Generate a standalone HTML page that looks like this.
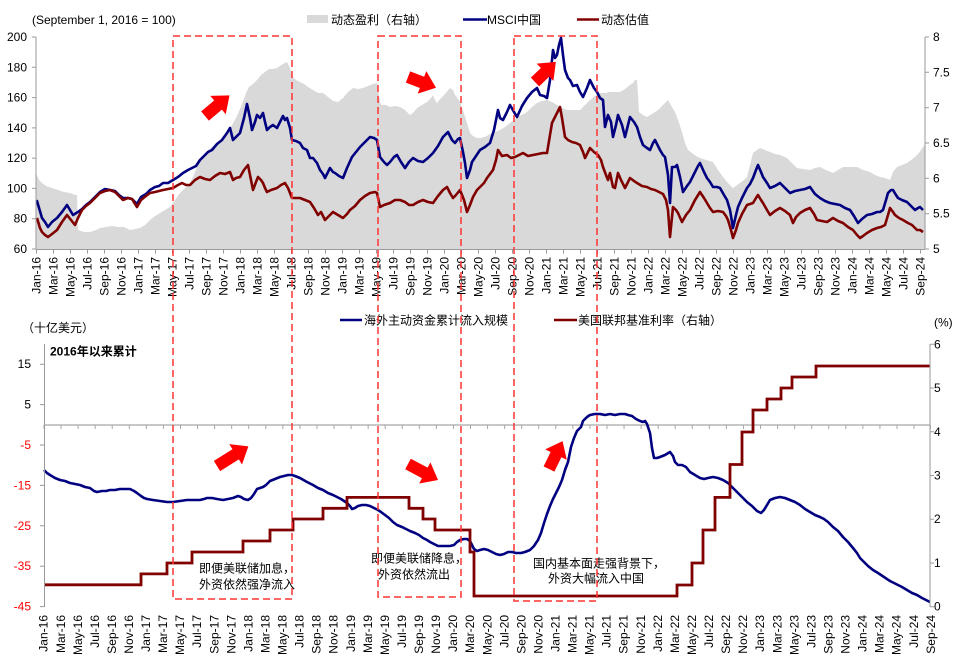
<!DOCTYPE html>
<html><head><meta charset="utf-8"><style>
html,body{margin:0;padding:0;background:#fff;}
svg{display:block;font-family:"Liberation Sans","Noto Sans CJK SC",sans-serif;}
</style></head><body>
<svg width="969" height="664" viewBox="0 0 969 664" xmlns="http://www.w3.org/2000/svg">
<rect width="969" height="664" fill="#fff"/>

<!-- ===== TOP CHART ===== -->
<polygon fill="#d9d9d9" points="36,173 39,180 42,183 46,186 52,188 58,190 64,192 70,193 75,195 77,195 78,230 84,232 90,232 96,230 100,228 106,227 112,226 118,227 124,227 130,230 135,229 140,228 145,225 150,220 155,216 160,213 165,210 170,207 175,200 180,193 185,188 190,183 195,172 200,160 204,155 207,151 212,147 217,143 222,139 227,133 232,125 237,116 242,104 246,93 249,87 253,84 257,80 261,75 265,72 269,69 273,69 277,68 280,66 283,64 287,62 290,68 292,76 296,80 300,82 304,84 308,87 313,90 318,93 323,93 328,97 333,101 338,102 343,98 348,92 353,88 358,89 363,88 368,86 373,84 377,83 379,95 381,105 386,105 390,107 395,106 400,107 405,110 410,115 414,112 417,108 422,105 427,102 431,98 433,95 435,100 437,103 441,98 445,94 450,88 453,90 455,95 459,100 462,107 465,117 467,123 470,133 473,136 477,138 480,138 485,137 490,134 495,132 500,130 505,127 510,123 514,120 517,117 522,115 527,112 532,107 537,103 542,101 547,100 552,102 557,105 562,108 567,110 572,110 577,110 580,110 585,105 590,100 595,96 600,93 605,93 610,92 615,92 620,92 625,89 630,85 633,83 635,80 637,80 639,112 643,115 647,117 652,114 658,110 663,105 668,100 672,107 675,112 678,120 682,132 685,143 688,150 692,153 696,156 700,158 706,160 713,162 718,170 723,177 728,183 733,188 737,185 740,183 744,180 747,177 750,165 753,153 757,150 760,148 765,150 770,152 775,154 780,155 787,158 792,163 797,168 803,169 810,170 815,168 820,167 826,170 833,173 838,170 843,167 850,167 857,167 863,170 870,172 875,175 880,177 885,178 890,180 893,172 897,167 902,165 907,163 911,160 915,157 919,153 923,147 925,145 925,249 36,249"/>

<!-- MSCI China (navy) -->
<polyline fill="none" stroke="#000080" stroke-width="2.6" stroke-linejoin="round" points="36.7,200 42,218 45,222 48,227 52,222 57,218 62,212 67,205 70,210 73,215 78,212 82,209 86,205 90,202 95,197 100,192 105,189 110,190 115,191 119,195 123,198 128,198 132,199 137,204 141,197 146,194 150,190 155,187 159,186 163,183 168,183 173,180 178,177 183,173 188,170 192,168 196,166 200,160 204,156 208,152 212,150 217,144 222,140 227,133 230,128 233,140 237,136 240,133 244,118 247,104 250,118 252,130 255,122 257,115 260,118 263,113 265,122 267,130 270,127 273,125 277,128 280,122 283,116 285,120 287,118 290,128 292,140 296,141 300,143 303,148 307,150 310,158 313,158 317,163 320,170 323,174 325,178 328,172 330,168 333,172 335,173 339,176 343,178 347,168 352,157 356,152 360,147 365,142 370,137 374,138 377,140 380,157 384,162 387,165 390,162 394,157 397,155 401,162 405,168 409,162 413,158 418,161 423,162 428,158 433,153 438,146 443,137 448,132 452,140 455,143 458,139 460,138 463,152 465,163 467,178 470,170 472,162 476,156 480,150 485,147 490,143 494,130 498,110 500,118 503,120 507,112 510,105 514,112 517,117 522,106 527,98 532,92 537,88 540,95 544,96 547,98 550,80 553,50 555,58 557,55 559,45 561,38 563,55 565,70 568,78 570,80 573,86 577,85 580,92 583,97 587,88 590,80 594,88 597,92 600,98 603,100 605,127 608,115 611,122 613,137 616,125 618,115 622,125 625,137 628,125 630,117 634,122 637,127 640,137 643,145 647,148 650,150 653,143 655,140 658,146 660,150 663,155 665,157 668,175 670,203 672,167 675,167 677,165 680,177 683,192 687,186 690,182 693,176 695,172 698,166 700,163 704,172 707,178 710,182 713,187 717,187 720,188 724,195 727,200 730,210 733,228 736,215 738,207 742,198 747,188 750,184 753,178 756,170 758,165 761,172 763,177 767,183 770,188 775,186 780,183 785,188 790,193 795,191 800,190 805,189 810,187 815,194 820,198 825,201 830,203 835,204 840,205 845,208 850,210 854,216 858,223 862,219 867,215 872,214 877,212 880,212 883,210 886,200 888,193 891,190 893,190 896,195 898,198 902,200 907,202 911,206 915,210 918,208 920,207 923,210"/>

<!-- valuation (dark red) on top -->
<polyline fill="none" stroke="#800000" stroke-width="2.6" stroke-linejoin="round" points="37,218 40,228 42,232 45,235 48,237 52,234 57,230 62,222 67,215 71,220 75,225 78,218 82,210 86,206 90,203 95,198 100,193 105,191 110,190 115,192 119,196 123,200 128,198 132,199 137,207 141,200 146,196 150,193 155,192 159,191 163,190 168,189 173,188 178,185 182,183 186,185 190,185 195,180 200,177 205,179 210,180 215,176 220,173 225,174 230,172 233,180 236,178 240,177 244,170 248,165 251,180 253,190 256,182 258,177 261,180 263,183 265,188 267,192 271,190 277,188 281,185 285,183 288,188 292,198 296,198 300,198 305,200 310,202 314,208 318,215 321,212 325,220 329,216 333,212 338,215 343,218 347,214 350,210 355,206 360,200 365,196 370,193 375,192 377,193 380,207 384,205 390,203 395,200 400,200 405,202 409,205 413,205 418,202 423,200 428,202 433,203 438,196 443,190 447,187 450,193 453,198 456,195 460,190 464,200 467,212 470,205 473,197 477,190 480,187 484,183 487,178 490,174 493,170 496,160 498,150 502,156 507,155 511,158 515,157 519,155 523,153 528,156 533,155 538,154 543,153 547,153 550,135 552,123 556,115 560,107 562,118 565,137 568,140 572,142 576,143 580,145 583,152 585,158 588,152 590,148 594,152 598,155 601,160 603,167 606,175 608,180 610,173 613,187 615,188 618,173 621,180 625,188 628,182 630,178 634,181 637,183 642,186 647,187 651,189 655,190 659,192 663,194 666,200 668,210 670,237 673,207 676,210 678,213 682,222 686,215 690,210 695,200 700,192 704,198 707,203 710,208 713,212 718,211 723,212 726,216 728,220 731,230 733,238 736,230 738,223 742,214 747,205 750,204 753,203 756,198 758,195 761,200 763,203 767,210 770,215 775,211 780,208 785,211 790,215 793,223 796,217 800,213 805,210 810,208 814,214 817,220 822,221 827,222 833,218 838,221 843,223 848,227 853,230 857,235 860,238 863,236 867,233 872,230 877,228 881,227 885,225 888,215 890,208 893,212 895,215 899,218 903,220 908,223 912,225 917,230 920,230 923,232"/>

<!-- top axes -->
<g stroke="#9a9a9a" stroke-width="1" fill="none">
<line x1="36" y1="37" x2="36" y2="249.5"/>
<line x1="925" y1="37" x2="925" y2="249.5"/>
<line x1="36" y1="249.5" x2="925" y2="249.5"/>
<path d="M32,37H36M32,67.3H36M32,97.6H36M32,127.9H36M32,158.1H36M32,188.4H36M32,218.7H36M32,249H36"/>
<path d="M925,37H929M925,72.3H929M925,107.7H929M925,143H929M925,178.3H929M925,213.7H929M925,249H929"/>
</g>
<line x1="36" y1="251.5" x2="925" y2="251.5" stroke="#9a9a9a" stroke-width="4" stroke-dasharray="1,16"/>

<g font-size="12" fill="#000" text-anchor="end">
<text x="27" y="41">200</text><text x="27" y="71.3">180</text><text x="27" y="101.6">160</text><text x="27" y="131.9">140</text><text x="27" y="162.1">120</text><text x="27" y="192.4">100</text><text x="27" y="222.7">80</text><text x="27" y="253">60</text>
</g>
<g font-size="12" fill="#000">
<text x="933" y="41">8</text><text x="933" y="76.3">7.5</text><text x="933" y="111.7">7</text><text x="933" y="147">6.5</text><text x="933" y="182.3">6</text><text x="933" y="217.7">5.5</text><text x="933" y="253">5</text>
</g>

<!-- top x labels -->
<g font-size="12" fill="#000" text-anchor="end">
<text transform="translate(40.7,257) rotate(-90)">Jan-16</text><text transform="translate(57.7,257) rotate(-90)">Mar-16</text><text transform="translate(74.7,257) rotate(-90)">May-16</text><text transform="translate(91.7,257) rotate(-90)">Jul-16</text><text transform="translate(108.7,257) rotate(-90)">Sep-16</text><text transform="translate(125.7,257) rotate(-90)">Nov-16</text><text transform="translate(142.7,257) rotate(-90)">Jan-17</text><text transform="translate(159.7,257) rotate(-90)">Mar-17</text><text transform="translate(176.7,257) rotate(-90)">May-17</text><text transform="translate(193.7,257) rotate(-90)">Jul-17</text><text transform="translate(210.7,257) rotate(-90)">Sep-17</text><text transform="translate(227.7,257) rotate(-90)">Nov-17</text><text transform="translate(244.7,257) rotate(-90)">Jan-18</text><text transform="translate(261.7,257) rotate(-90)">Mar-18</text><text transform="translate(278.7,257) rotate(-90)">May-18</text><text transform="translate(295.7,257) rotate(-90)">Jul-18</text><text transform="translate(312.7,257) rotate(-90)">Sep-18</text><text transform="translate(329.7,257) rotate(-90)">Nov-18</text><text transform="translate(346.7,257) rotate(-90)">Jan-19</text><text transform="translate(363.7,257) rotate(-90)">Mar-19</text><text transform="translate(380.7,257) rotate(-90)">May-19</text><text transform="translate(397.7,257) rotate(-90)">Jul-19</text><text transform="translate(414.7,257) rotate(-90)">Sep-19</text><text transform="translate(431.7,257) rotate(-90)">Nov-19</text><text transform="translate(448.7,257) rotate(-90)">Jan-20</text><text transform="translate(465.7,257) rotate(-90)">Mar-20</text><text transform="translate(482.7,257) rotate(-90)">May-20</text><text transform="translate(499.7,257) rotate(-90)">Jul-20</text><text transform="translate(516.7,257) rotate(-90)">Sep-20</text><text transform="translate(533.7,257) rotate(-90)">Nov-20</text><text transform="translate(550.7,257) rotate(-90)">Jan-21</text><text transform="translate(567.7,257) rotate(-90)">Mar-21</text><text transform="translate(584.7,257) rotate(-90)">May-21</text><text transform="translate(601.7,257) rotate(-90)">Jul-21</text><text transform="translate(618.7,257) rotate(-90)">Sep-21</text><text transform="translate(635.7,257) rotate(-90)">Nov-21</text><text transform="translate(652.7,257) rotate(-90)">Jan-22</text><text transform="translate(669.7,257) rotate(-90)">Mar-22</text><text transform="translate(686.7,257) rotate(-90)">May-22</text><text transform="translate(703.7,257) rotate(-90)">Jul-22</text><text transform="translate(720.7,257) rotate(-90)">Sep-22</text><text transform="translate(737.7,257) rotate(-90)">Nov-22</text><text transform="translate(754.7,257) rotate(-90)">Jan-23</text><text transform="translate(771.7,257) rotate(-90)">Mar-23</text><text transform="translate(788.7,257) rotate(-90)">May-23</text><text transform="translate(805.7,257) rotate(-90)">Jul-23</text><text transform="translate(822.7,257) rotate(-90)">Sep-23</text><text transform="translate(839.7,257) rotate(-90)">Nov-23</text><text transform="translate(856.7,257) rotate(-90)">Jan-24</text><text transform="translate(873.7,257) rotate(-90)">Mar-24</text><text transform="translate(890.7,257) rotate(-90)">May-24</text><text transform="translate(907.7,257) rotate(-90)">Jul-24</text><text transform="translate(924.7,257) rotate(-90)">Sep-24</text>
</g>

<!-- top legend -->
<text x="32" y="24" font-size="12" fill="#000">(September 1, 2016 = 100)</text>
<rect x="307" y="15" width="21" height="8" fill="#d9d9d9"/>
<text x="331" y="24" font-size="12" fill="#000">动态盈利（右轴）</text>
<line x1="463" y1="19.5" x2="487" y2="19.5" stroke="#000080" stroke-width="2.5"/>
<text x="487" y="24" font-size="12" fill="#000">MSCI中国</text>
<line x1="577" y1="19.5" x2="599" y2="19.5" stroke="#800000" stroke-width="2.5"/>
<text x="601" y="24" font-size="12" fill="#000">动态估值</text>

<!-- ===== BOTTOM CHART ===== -->
<line x1="44" y1="425" x2="930" y2="425" stroke="#a6a6a6" stroke-width="1.2"/>
<line x1="43.5" y1="427" x2="931" y2="427" stroke="#a6a6a6" stroke-width="4" stroke-dasharray="1,16.06"/>

<!-- foreign flows -->
<polyline fill="none" stroke="#000080" stroke-width="2.6" stroke-linejoin="round" points="44,470 47,473 50,475 55,478 60,480 65,481 70,483 75,484 80,485 85,487 90,488 94,491 97,492 102,491 106,491 110,490 115,490 120,489 125,489 130,489 134,491 137,493 141,496 144,498 147,499 153,500 160,501 167,502 173,502 180,501 187,500 193,500 200,500 204,499 207,498 212,498 217,499 223,500 228,499 233,498 238,496 241,497 244,499 248,500 251,498 254,494 257,489 260,488 263,487 266,485 270,481 275,479 280,477 284,476 288,475 292,475 295,476 300,478 307,482 313,485 318,488 323,490 328,493 333,495 337,497 341,499 344,501 347,503 350,506 352,509 355,508 358,506 362,505 366,505 370,506 374,508 378,510 381,512 385,515 389,518 393,522 397,525 402,527 406,529 410,531 415,533 419,535 423,538 427,540 430,542 434,544 438,546 442,546 446,546 450,546 454,545 457,542 460,540 464,539 467,539 470,541 472,545 474,549 477,551 480,550 484,549 488,550 492,552 496,554 500,555 504,554 508,552 512,552 516,553 521,553 525,552 530,550 534,546 538,540 541,533 544,523 547,514 550,506 553,499 556,493 559,487 562,480 565,470 568,462 571,447 574,438 577,431 581,427 583,421 587,417 590,415 595,414 600,414 605,415 610,414 615,415 620,414 625,414 628,415 632,416 636,419 640,421 643,422 645,421 647,424 650,433 652,448 654,458 657,458 660,457 665,455 670,452 673,456 675,462 678,465 682,465 686,467 690,472 695,475 700,478 704,479 708,478 713,477 718,478 723,480 728,483 732,487 737,492 742,497 747,502 752,506 757,511 761,513 764,510 767,505 770,500 775,498 780,497 785,498 790,500 795,502 800,505 805,509 810,512 815,515 820,517 824,519 828,522 833,527 838,531 843,537 848,542 853,548 857,553 860,558 864,562 868,566 873,570 878,573 884,577 890,581 896,584 902,587 907,590 912,593 917,595 922,598 926,600 930,602"/>

<!-- fed rate (on top) -->
<polyline fill="none" stroke="#800000" stroke-width="2.8" stroke-linejoin="miter" points="44,584.8 141,584.8 141,573.9 167,573.9 167,563 192,563 192,552 243,552 243,541 270,541 270,530 293,530 293,519 323,519 323,508.3 347,508.3 347,497.4 409,497.4 409,508.3 423,508.3 423,519 435,519 435,530 470,530 470,552 474,552 474,596 677,596 677,585 692,585 692,563 703,563 703,530 715,530 715,497.4 730,497.4 730,464.5 742,464.5 742,432 753,432 753,410 767,410 767,399 781,399 781,388 792,388 792,377 816,377 816,366 930,366"/>

<!-- bottom axes -->
<g stroke="#9a9a9a" stroke-width="1" fill="none">
<line x1="44.5" y1="344" x2="44.5" y2="607"/>
<line x1="930" y1="344" x2="930" y2="607"/>
<path d="M40,364.2H44.5M40,404.6H44.5M40,445H44.5M40,485.4H44.5M40,525.8H44.5M40,566.2H44.5M40,606.6H44.5"/>
<path d="M930,344.3H934M930,388H934M930,431.8H934M930,475.5H934M930,519.2H934M930,563H934M930,606.7H934"/>
</g>
<g font-size="12" text-anchor="end">
<text x="31" y="368.2" fill="#000">15</text><text x="31" y="408.6" fill="#000">5</text><text x="31" y="449" fill="#ff0000">-5</text><text x="31" y="489.4" fill="#ff0000">-15</text><text x="31" y="529.8" fill="#ff0000">-25</text><text x="31" y="570.2" fill="#ff0000">-35</text><text x="31" y="610.6" fill="#ff0000">-45</text>
</g>
<g font-size="12" fill="#000">
<text x="934" y="348.3">6</text><text x="934" y="392">5</text><text x="934" y="435.8">4</text><text x="934" y="479.5">3</text><text x="934" y="523.2">2</text><text x="934" y="567">1</text><text x="934" y="610.7">0</text>
</g>

<!-- bottom x labels -->
<g font-size="12" fill="#000" text-anchor="end">
<text transform="translate(47.7,615) rotate(-90)">Jan-16</text><text transform="translate(64.8,615) rotate(-90)">Mar-16</text><text transform="translate(81.8,615) rotate(-90)">May-16</text><text transform="translate(98.9,615) rotate(-90)">Jul-16</text><text transform="translate(115.9,615) rotate(-90)">Sep-16</text><text transform="translate(133,615) rotate(-90)">Nov-16</text><text transform="translate(150.1,615) rotate(-90)">Jan-17</text><text transform="translate(167.1,615) rotate(-90)">Mar-17</text><text transform="translate(184.2,615) rotate(-90)">May-17</text><text transform="translate(201.2,615) rotate(-90)">Jul-17</text><text transform="translate(218.3,615) rotate(-90)">Sep-17</text><text transform="translate(235.4,615) rotate(-90)">Nov-17</text><text transform="translate(252.4,615) rotate(-90)">Jan-18</text><text transform="translate(269.5,615) rotate(-90)">Mar-18</text><text transform="translate(286.5,615) rotate(-90)">May-18</text><text transform="translate(303.6,615) rotate(-90)">Jul-18</text><text transform="translate(320.7,615) rotate(-90)">Sep-18</text><text transform="translate(337.7,615) rotate(-90)">Nov-18</text><text transform="translate(354.8,615) rotate(-90)">Jan-19</text><text transform="translate(371.8,615) rotate(-90)">Mar-19</text><text transform="translate(388.9,615) rotate(-90)">May-19</text><text transform="translate(406,615) rotate(-90)">Jul-19</text><text transform="translate(423,615) rotate(-90)">Sep-19</text><text transform="translate(440.1,615) rotate(-90)">Nov-19</text><text transform="translate(457.1,615) rotate(-90)">Jan-20</text><text transform="translate(474.2,615) rotate(-90)">Mar-20</text><text transform="translate(491.3,615) rotate(-90)">May-20</text><text transform="translate(508.3,615) rotate(-90)">Jul-20</text><text transform="translate(525.4,615) rotate(-90)">Sep-20</text><text transform="translate(542.4,615) rotate(-90)">Nov-20</text><text transform="translate(559.5,615) rotate(-90)">Jan-21</text><text transform="translate(576.6,615) rotate(-90)">Mar-21</text><text transform="translate(593.6,615) rotate(-90)">May-21</text><text transform="translate(610.7,615) rotate(-90)">Jul-21</text><text transform="translate(627.7,615) rotate(-90)">Sep-21</text><text transform="translate(644.8,615) rotate(-90)">Nov-21</text><text transform="translate(661.9,615) rotate(-90)">Jan-22</text><text transform="translate(678.9,615) rotate(-90)">Mar-22</text><text transform="translate(696,615) rotate(-90)">May-22</text><text transform="translate(713,615) rotate(-90)">Jul-22</text><text transform="translate(730.1,615) rotate(-90)">Sep-22</text><text transform="translate(747.2,615) rotate(-90)">Nov-22</text><text transform="translate(764.2,615) rotate(-90)">Jan-23</text><text transform="translate(781.3,615) rotate(-90)">Mar-23</text><text transform="translate(798.3,615) rotate(-90)">May-23</text><text transform="translate(815.4,615) rotate(-90)">Jul-23</text><text transform="translate(832.5,615) rotate(-90)">Sep-23</text><text transform="translate(849.5,615) rotate(-90)">Nov-23</text><text transform="translate(866.6,615) rotate(-90)">Jan-24</text><text transform="translate(883.6,615) rotate(-90)">Mar-24</text><text transform="translate(900.7,615) rotate(-90)">May-24</text><text transform="translate(917.8,615) rotate(-90)">Jul-24</text><text transform="translate(934.8,615) rotate(-90)">Sep-24</text>
</g>

<!-- bottom legend / titles -->
<line x1="340" y1="320" x2="362" y2="320" stroke="#000080" stroke-width="2.5"/>
<text x="364" y="324.5" font-size="12" fill="#000">海外主动资金累计流入规模</text>
<line x1="554" y1="320" x2="577" y2="320" stroke="#800000" stroke-width="2.5"/>
<text x="578" y="324.5" font-size="12" fill="#000">美国联邦基准利率（右轴）</text>
<text x="934" y="326.5" font-size="12" fill="#000">(%)</text>
<text x="22" y="332" font-size="12" fill="#000">（十亿美元）</text>
<text x="50" y="355.5" font-size="12" font-weight="bold" fill="#000">2016年以来累计</text>

<!-- annotations -->
<g font-size="12" fill="#000">
<text x="199" y="572.5">即便美联储加息，</text>
<text x="199" y="588.5">外资依然强净流入</text>
<text x="371" y="562.5">即便美联储降息，</text>
<text x="378" y="578.5">外资依然流出</text>
<text x="533" y="567.5">国内基本面走强背景下，</text>
<text x="548" y="582.5">外资大幅流入中国</text>
</g>

<!-- dashed boxes -->
<g fill="none" stroke="#ff3333" stroke-width="1.5" stroke-dasharray="7,4">
<rect x="173" y="36" width="119" height="563"/>
<rect x="378" y="36" width="83" height="561"/>
<rect x="514" y="36" width="83" height="565"/>
</g>

<!-- arrows -->
<g fill="#ff0000">
<polygon transform="translate(205,116) rotate(-40)" points="0,-6 17,-6 17,-12 32,0 17,12 17,6 0,6"/>
<polygon transform="translate(408,77) rotate(21)" points="0,-6 15,-6 15,-12 30,0 15,12 15,6 0,6"/>
<polygon transform="translate(535,82) rotate(-44)" points="0,-6 14,-6 14,-12 29,0 14,12 14,6 0,6"/>
<polygon transform="translate(217,466) rotate(-32)" points="0,-6 22,-6 22,-12 37,0 22,12 22,6 0,6"/>
<polygon transform="translate(408,464) rotate(28)" points="0,-6 19,-6 19,-12 34,0 19,12 19,6 0,6"/>
<polygon transform="translate(549,469) rotate(-64)" points="0,-6 16,-6 16,-12 31,0 16,12 16,6 0,6"/>
</g>
</svg>
</body></html>
